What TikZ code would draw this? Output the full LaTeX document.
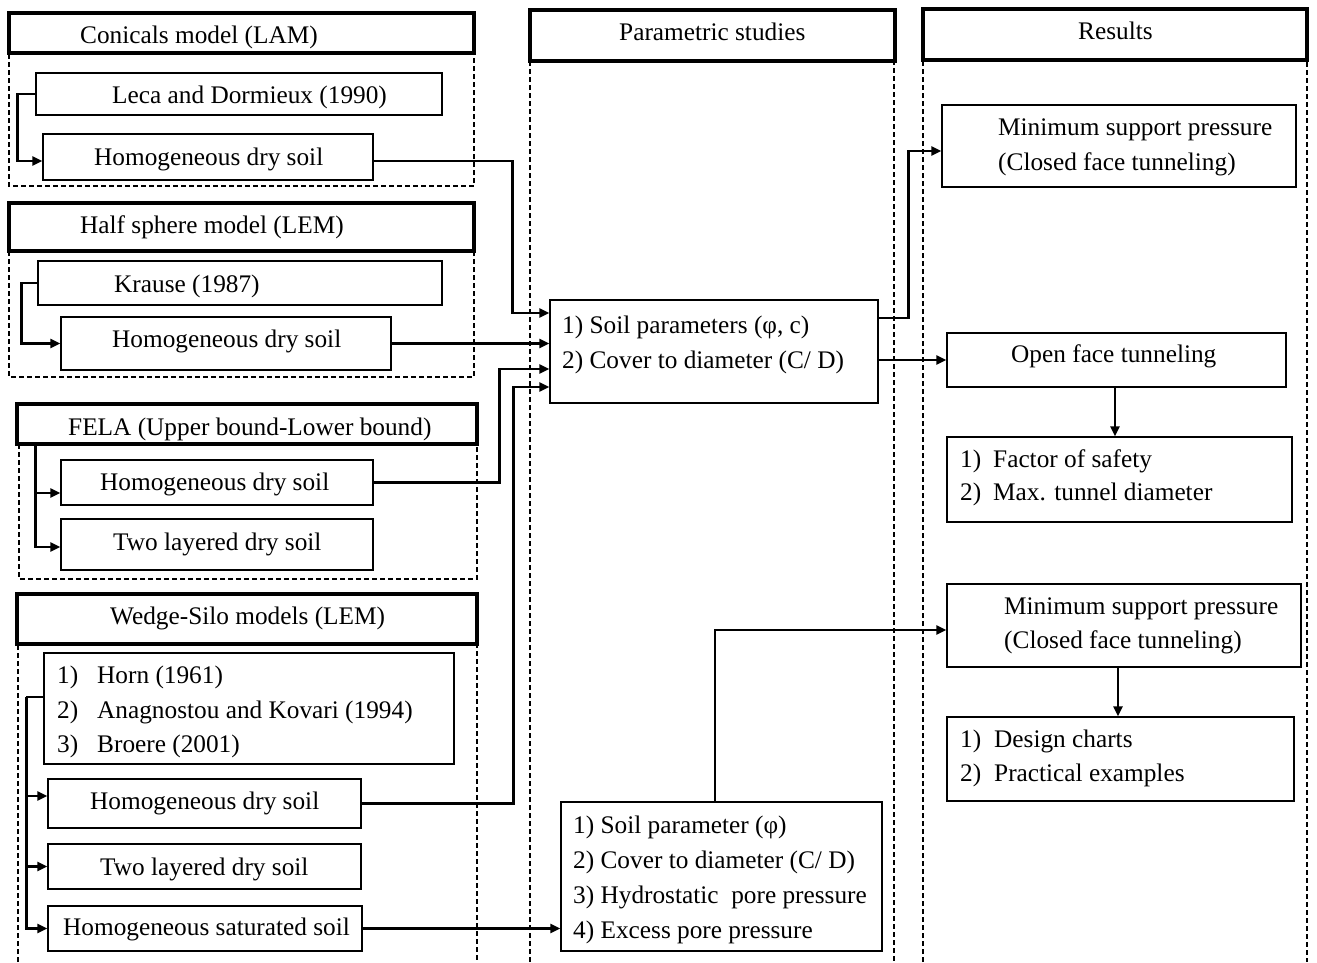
\documentclass[tikz,border=0pt]{standalone}
\usepackage{fontspec}
\setmainfont{Liberation Serif}
\usetikzlibrary{fit,arrows.meta}
\newcommand\rbox[6]{\node[#1, fit={(#3,#4) (#5,#6)}] (#2) {};}
\newcommand\numit[2]{\makebox[#1][l]{#2}}
\begin{document}
\begin{tikzpicture}[x=1pt,y=-1pt,
  hdr/.style={draw, line width=3.4pt, inner sep=0pt},
  bx/.style={draw, line width=1.2pt, inner sep=0pt},
  grp/.style={line width=1.2pt, dash pattern=on 5pt off 3pt},
  conn/.style={line width=2.6pt, -{Triangle[length=10pt,width=9pt]}},
  ln/.style={line width=2.6pt},
  txt/.style={inner sep=0pt, anchor=base west, font=\fontsize{25.3}{30}\selectfont}]
\fill[white] (0,0) rectangle (1317,962);
\useasboundingbox (0,0) rectangle (1317,962);

% dashed groups and columns
\draw[grp] (9,54) -- (9,186) -- (474,186) -- (474,54) -- cycle;
\draw[grp] (9,251) -- (9,377) -- (474,377) -- (474,251) -- cycle;
\draw[grp] (19,444) -- (19,579) -- (477,579) -- (477,444) -- cycle;
\draw[grp] (18,962) -- (18,644) -- (477,644) -- (477,962);
\draw[grp] (530,962) -- (530,61) -- (894,61) -- (894,962);
\draw[grp] (923,962) -- (923,60) -- (1307,60) -- (1307,962);

% headers
\rbox{hdr}{h1}{9}{13}{474}{53}
\rbox{hdr}{h2}{9}{203}{474}{251}
\rbox{hdr}{fela}{17}{404}{477}{444}
\rbox{hdr}{wedge}{17}{594}{477}{644}
\rbox{hdr}{hp}{530}{10}{895}{61}
\rbox{hdr}{hr}{923}{9}{1307}{60}

% boxes
\rbox{bx}{leca}{36}{73}{442}{115}
\rbox{bx}{hom1}{43}{134}{373}{180}
\rbox{bx}{krause}{38}{261}{442}{305}
\rbox{bx}{hom2}{61}{317}{391}{370}
\rbox{bx}{hom3}{61}{460}{373}{505}
\rbox{bx}{two3}{61}{519}{373}{570}
\rbox{bx}{horn}{44}{653}{454}{764}
\rbox{bx}{hom4}{48}{779}{361}{828}
\rbox{bx}{two4}{48}{844}{361}{889}
\rbox{bx}{sat}{48}{906}{362}{951}
\rbox{bx}{p1}{550}{300}{878}{403}
\rbox{bx}{p2}{561}{802}{882}{951}
\rbox{bx}{ms1}{942}{105}{1296}{187}
\rbox{bx}{open}{947}{333}{1286}{387}
\rbox{bx}{fos}{947}{437}{1292}{522}
\rbox{bx}{ms2}{947}{584}{1301}{667}
\rbox{bx}{design}{947}{717}{1294}{801}

% texts
\node[txt] (th1) at (80,43) {Conicals model (LAM)};
\node[txt] (tleca) at (112,103) {Leca and Dormieux (1990)};
\node[txt] (thom1) at (94,165) {Homogeneous dry soil};
\node[txt] (th2) at (80,233) {Half sphere model (LEM)};
\node[txt] (tkrause) at (114,292) {Krause (1987)};
\node[txt] (thom2) at (112,347) {Homogeneous dry soil};
\node[txt] (tfela) at (68,435) {FELA (Upper bound-Lower bound)};
\node[txt] (thom3) at (100,490) {Homogeneous dry soil};
\node[txt] (ttwo3) at (113,550) {Two layered dry soil};
\node[txt] (twedge) at (110,624) {Wedge-Silo models (LEM)};
\node[txt] (thorn1) at (57,683) {\numit{40pt}{1)}Horn (1961)};
\node[txt] (thorn2) at (57,718) {\numit{40pt}{2)}Anagnostou and Kovari (1994)};
\node[txt] (thorn3) at (57,752) {\numit{40pt}{3)}Broere (2001)};
\node[txt] (thom4) at (90,809) {Homogeneous dry soil};
\node[txt] (ttwo4) at (100,875) {Two layered dry soil};
\node[txt] (tsat) at (63,935) {Homogeneous saturated soil};
\node[txt] (thp) at (619,40) {Parametric studies};
\node[txt] (tp11) at (562,333) {1) Soil parameters (φ, c)};
\node[txt] (tp12) at (562,368) {2) Cover to diameter (C/ D)};
\node[txt] (tp21) at (573,833) {1) Soil parameter (φ)};
\node[txt] (tp22) at (573,868) {2) Cover to diameter (C/ D)};
\node[txt] (tp23) at (573,903) {3) Hydrostatic\ \ pore pressure};
\node[txt] (tp24) at (573,938) {4) Excess pore pressure};
\node[txt] (thr) at (1078,39) {Results};
\node[txt] (tms11) at (998,135) {Minimum support pressure};
\node[txt] (tms12) at (998,170) {(Closed face tunneling)};
\node[txt] (topen) at (1011,362) {Open face tunneling};
\node[txt] (tfos1) at (960,467) {\numit{33pt}{1)}Factor of safety};
\node[txt] (tfos2) at (960,500) {\numit{33pt}{2)}Max. tunnel diameter};
\node[txt] (tms21) at (1004,614) {Minimum support pressure};
\node[txt] (tms22) at (1004,648) {(Closed face tunneling)};
\node[txt] (tdes1) at (960,747) {\numit{34pt}{1)}Design charts};
\node[txt] (tdes2) at (960,781) {\numit{34pt}{2)}Practical examples};

% input points of p1
\coordinate (in1) at ([yshift=38.5pt]p1.west);
\coordinate (in3) at ([yshift=-17.5pt]p1.west);
\coordinate (in4) at ([yshift=-35.5pt]p1.west);

% connectors, left column
\draw[conn] (leca.west) -- ++(-18,0) |- ([yshift=-4pt]hom1.west);
\draw[conn] ([yshift=-4pt]hom1.east) -| ([xshift=-37pt]in1) -- (in1);
\draw[conn] (krause.west) -- ++(-16,0) |- (hom2.west);
\draw[conn] (hom2.east) -- (hom2.east -| p1.west);
\coordinate (fj) at ([xshift=20pt]fela.south west);
\draw[conn] (fj) |- ([yshift=-10.5pt]hom3.west);
\draw[conn] (fj) |- ([yshift=-2.5pt]two3.west);
\draw[conn] (hom3.east) -| ([xshift=-50pt]in3) -- (in3);
\coordinate (hj) at ([yshift=11.5pt]horn.west);
\draw[ln] (hj) -- ++(-17,0) coordinate (hk);
\draw[conn] (hk) |- ([yshift=7.5pt]hom4.west);
\draw[conn] (hk) |- (two4.west);
\draw[conn] (hk) |- (sat.west);
\draw[conn] (hom4.east) -| ([xshift=-36pt]in4) -- (in4);
\draw[conn] (sat.east) -- (sat.east -| p2.west);

% connectors, right part
\draw[conn] ([yshift=33.5pt]p1.east) -| ([xshift=-33pt,yshift=-5pt]ms1.west) -- ([yshift=-5pt]ms1.west);
\draw[conn] (p1.east |- open.west) -- (open.west);
\draw[conn] ([xshift=-1.5pt]open.south) -- ([xshift=-1.5pt]open.south |- fos.north);
\draw[conn] ([xshift=-6.5pt]p2.north) |- ([yshift=-4.5pt]ms2.west);
\draw[conn] ([xshift=-6pt]ms2.south) -- ([xshift=-6pt]ms2.south |- design.north);
\end{tikzpicture}
\end{document}
